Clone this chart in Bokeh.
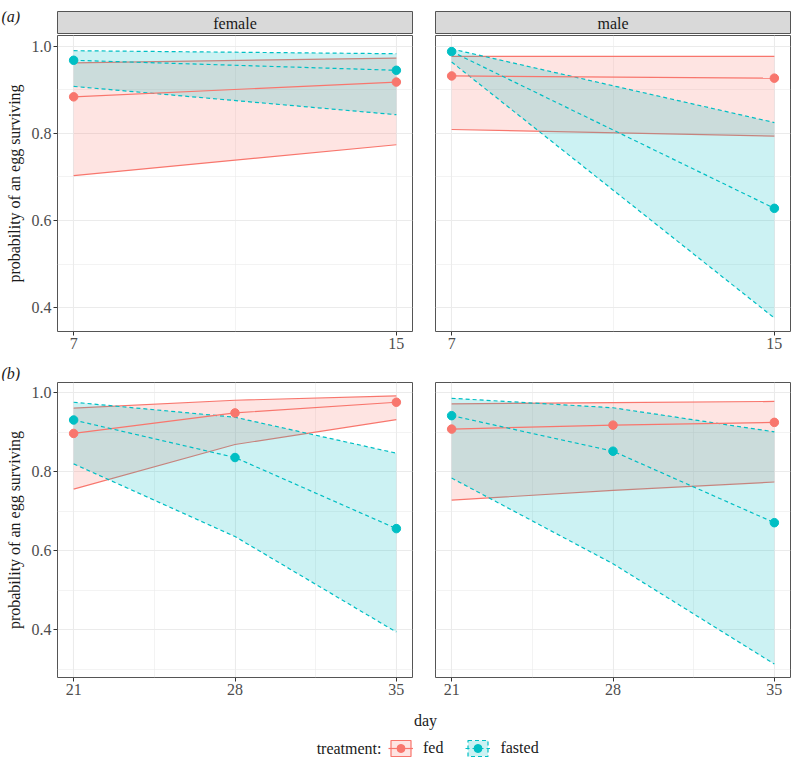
import numpy as np
from bokeh.plotting import figure
from bokeh.layouts import column, row
from bokeh.models import Range1d, FixedTicker, Label, Legend, LegendItem, PrintfTickFormatter
from bokeh.embed import file_html
from bokeh.resources import INLINE

FONT = "Liberation Serif"
FED_COLOR = "#F8766D"
FASTED_COLOR = "#00BFC4"
TXT = "#1A1A1A"
TICK_TXT = "#4D4D4D"
BORDER = "#555555"
GRID = "#EBEBEB"

# ---------------- data ----------------
treatments = ["fed", "fasted"]
sexes = ["female", "male"]
panel_tags = ["(a)", "(b)"]
y_label = "probability of an egg surviving"
x_label = "day"
legend_title = "treatment:"

days_a = [7, 15]
days_b = [21, 28, 35]

# panel (a)
a_female_fed_mean = [0.884, 0.918]
a_female_fed_lo = [0.703, 0.774]
a_female_fed_hi = [0.962, 0.973]
a_female_fasted_mean = [0.968, 0.945]
a_female_fasted_lo = [0.908, 0.843]
a_female_fasted_hi = [0.990, 0.983]
a_male_fed_mean = [0.932, 0.927]
a_male_fed_lo = [0.809, 0.794]
a_male_fed_hi = [0.977, 0.977]
a_male_fasted_mean = [0.988, 0.628]
a_male_fasted_lo = [0.964, 0.376]
a_male_fasted_hi = [0.994, 0.825]

# panel (b)
b_female_fed_mean = [0.897, 0.949, 0.976]
b_female_fed_lo = [0.756, 0.869, 0.932]
b_female_fed_hi = [0.961, 0.981, 0.992]
b_female_fasted_mean = [0.931, 0.836, 0.656]
b_female_fasted_lo = [0.820, 0.636, 0.394]
b_female_fasted_hi = [0.976, 0.938, 0.847]
b_male_fed_mean = [0.908, 0.918, 0.925]
b_male_fed_lo = [0.728, 0.753, 0.774]
b_male_fed_hi = [0.972, 0.975, 0.978]
b_male_fasted_mean = [0.942, 0.852, 0.671]
b_male_fasted_lo = [0.784, 0.567, 0.313]
b_male_fasted_hi = [0.986, 0.962, 0.901]

y_ticks = [0.4, 0.6, 0.8, 1.0]
y_minor = [0.3, 0.5, 0.7, 0.9]
x_ticks_a = [7, 15]
x_minor_a = [11]
x_ticks_b = [21, 28, 35]
x_minor_b = [24.5, 31.5]

# ---------------- layout constants ----------------
LEFT, FW, GAP = 57, 355, 22
WL = LEFT + FW + 1
WR = GAP + FW + 1
STRIP_H, STRIP_TOP = 23, 11
FRAME_A, BOTTOM_A = 296, 30
TAG_B_H = 20
FRAME_B, BOTTOM_B = 295, 30
FOOT_H = 54
DASH = "4 3"


def expand(vals, f=0.05):
    lo, hi = min(vals), max(vals)
    d = (hi - lo) * f
    return Range1d(lo - d, hi + d)


def panel(days, fed, fasted, x_rng, y_rng, xticks, xminor, left, frame_h, bottom):
    width = WL if left else WR
    p = figure(width=width, height=1 + frame_h + bottom, x_range=x_rng, y_range=y_rng,
               toolbar_location=None, output_backend="svg",
               min_border_left=LEFT if left else GAP, min_border_right=1,
               min_border_top=1, min_border_bottom=bottom,
               y_axis_location="left" if left else None)
    p.outline_line_color = BORDER
    p.outline_line_width = 1
    p.background_fill_color = "white"
    groups = [(fed, FED_COLOR, "solid"), (fasted, FASTED_COLOR, DASH)]
    for (mean, lo, hi), color, dash in groups:
        p.varea(x=days, y1=lo, y2=hi, fill_color=color, fill_alpha=0.2)
        p.line(days, lo, line_color=color, line_width=1.2, line_dash=dash)
        p.line(days, hi, line_color=color, line_width=1.2, line_dash=dash)
    for (mean, lo, hi), color, dash in groups:
        p.line(days, mean, line_color=color, line_width=1.2, line_dash=dash)
        p.scatter(days, mean, size=8.5, fill_color=color, line_color=color)

    xt = FixedTicker(ticks=xticks, minor_ticks=xminor)
    yt = FixedTicker(ticks=y_ticks, minor_ticks=y_minor)
    p.xaxis.ticker = xt
    p.xgrid.ticker = xt
    p.ygrid.ticker = yt
    for g in (p.xgrid, p.ygrid):
        g.grid_line_color = GRID
        g.grid_line_width = 1.1
        g.minor_grid_line_color = GRID
        g.minor_grid_line_width = 0.6
    axes = list(p.xaxis) + list(p.yaxis)
    for ax in axes:
        ax.axis_line_color = None
        ax.major_tick_line_color = "#333333"
        ax.major_tick_out = 4
        ax.major_tick_in = 0
        ax.minor_tick_line_color = None
        ax.major_label_standoff = 2
        ax.major_label_text_font = FONT
        ax.major_label_text_font_size = "16px"
        ax.major_label_text_color = TICK_TXT
    if left:
        p.yaxis.ticker = yt
        p.yaxis.formatter = PrintfTickFormatter(format="%.1f")
        p.yaxis.axis_label = y_label
        p.yaxis.axis_label_text_font = FONT
        p.yaxis.axis_label_text_font_size = "16px"
        p.yaxis.axis_label_text_font_style = "normal"
        p.yaxis.axis_label_text_color = TXT
        p.yaxis.axis_label_standoff = 6
    return p


def blank(width, height):
    f = figure(width=width, height=height, x_range=Range1d(0, width), y_range=Range1d(0, height),
               toolbar_location=None, output_backend="svg",
               min_border_left=0, min_border_right=0, min_border_top=0, min_border_bottom=0,
               x_axis_location=None, y_axis_location=None)
    f.grid.visible = False
    f.outline_line_color = None
    return f


def strip(text, width, mb_left, mb_right):
    s = figure(width=width, height=STRIP_TOP + STRIP_H, x_range=Range1d(0, 1), y_range=Range1d(0, 1),
               toolbar_location=None, output_backend="svg",
               min_border_left=mb_left, min_border_right=mb_right,
               min_border_top=STRIP_TOP, min_border_bottom=0,
               x_axis_location=None, y_axis_location=None)
    s.grid.visible = False
    s.background_fill_color = "#D9D9D9"
    s.outline_line_color = BORDER
    s.add_layout(Label(x=0.5, y=0.5, text=text, text_align="center", text_baseline="middle",
                       text_font=FONT, text_font_size="16px", text_color=TXT))
    return s


def tag(text, width, height, y):
    f = blank(width, height)
    f.add_layout(Label(x=1, y=y, text=text, text_align="left", text_baseline="middle",
                       text_font=FONT, text_font_size="16px", text_font_style="italic",
                       text_color=TXT))
    return f


# ranges (shared scales within each row, 5% expansion like ggplot)
xr_a = expand(days_a)
yr_a = expand(a_female_fed_lo + a_female_fed_hi + a_female_fasted_lo + a_female_fasted_hi +
              a_male_fed_lo + a_male_fed_hi + a_male_fasted_lo + a_male_fasted_hi)
xr_b = expand(days_b)
yr_b = expand(b_female_fed_lo + b_female_fed_hi + b_female_fasted_lo + b_female_fasted_hi +
              b_male_fed_lo + b_male_fed_hi + b_male_fasted_lo + b_male_fasted_hi)

pa_f = panel(days_a, (a_female_fed_mean, a_female_fed_lo, a_female_fed_hi),
             (a_female_fasted_mean, a_female_fasted_lo, a_female_fasted_hi),
             xr_a, yr_a, x_ticks_a, x_minor_a, True, FRAME_A, BOTTOM_A)
pa_m = panel(days_a, (a_male_fed_mean, a_male_fed_lo, a_male_fed_hi),
             (a_male_fasted_mean, a_male_fasted_lo, a_male_fasted_hi),
             xr_a, yr_a, x_ticks_a, x_minor_a, False, FRAME_A, BOTTOM_A)
pb_f = panel(days_b, (b_female_fed_mean, b_female_fed_lo, b_female_fed_hi),
             (b_female_fasted_mean, b_female_fasted_lo, b_female_fasted_hi),
             xr_b, yr_b, x_ticks_b, x_minor_b, True, FRAME_B, BOTTOM_B)
pb_m = panel(days_b, (b_male_fed_mean, b_male_fed_lo, b_male_fed_hi),
             (b_male_fasted_mean, b_male_fasted_lo, b_male_fasted_hi),
             xr_b, yr_b, x_ticks_b, x_minor_b, False, FRAME_B, BOTTOM_B)

corner_a = tag(panel_tags[0], LEFT - 1, STRIP_TOP + STRIP_H, STRIP_TOP + STRIP_H - 8)
strip_f = strip(sexes[0], FW + 2, 1, 1)
strip_m = strip(sexes[1], WR, GAP, 1)
corner_b = tag(panel_tags[1], LEFT - 1, TAG_B_H, 8)

# footer: x-axis title and legend
W = WL + WR
foot = blank(W, FOOT_H)
foot.add_layout(Label(x=425, y=FOOT_H - 13, text=x_label, text_align="center",
                      text_baseline="middle", text_font=FONT, text_font_size="16px",
                      text_color=TXT))
foot.add_layout(Label(x=381, y=13, text=legend_title, text_align="right",
                      text_baseline="middle", text_font=FONT, text_font_size="16px",
                      text_color=TXT))
nan = np.array([np.nan])
items = []
for name, color, dash in zip(treatments, [FED_COLOR, FASTED_COLOR], ["solid", DASH]):
    q = foot.quad(left=nan, right=nan, top=nan, bottom=nan, fill_color=color, fill_alpha=0.2,
                  line_color=color, line_width=1.2, line_dash=dash)
    ln = foot.line(x=nan, y=nan, line_color=color, line_width=1.2, line_dash=dash)
    sc = foot.scatter(x=nan, y=nan, size=8.5, fill_color=color, line_color=color)
    items.append(LegendItem(label=name, renderers=[q, ln, sc]))
legend = Legend(items=items, orientation="horizontal", location=(388, 3),
                glyph_width=25, glyph_height=20, label_standoff=10, spacing=22,
                padding=0, margin=0, border_line_color=None, background_fill_alpha=0,
                label_text_font=FONT, label_text_font_size="16px", label_text_color=TXT)
foot.add_layout(legend)

layout = column(
    row(corner_a, strip_f, strip_m),
    row(pa_f, pa_m),
    corner_b,
    row(pb_f, pb_m),
    foot,
)

open("out.html", "w").write(file_html(layout, INLINE))
